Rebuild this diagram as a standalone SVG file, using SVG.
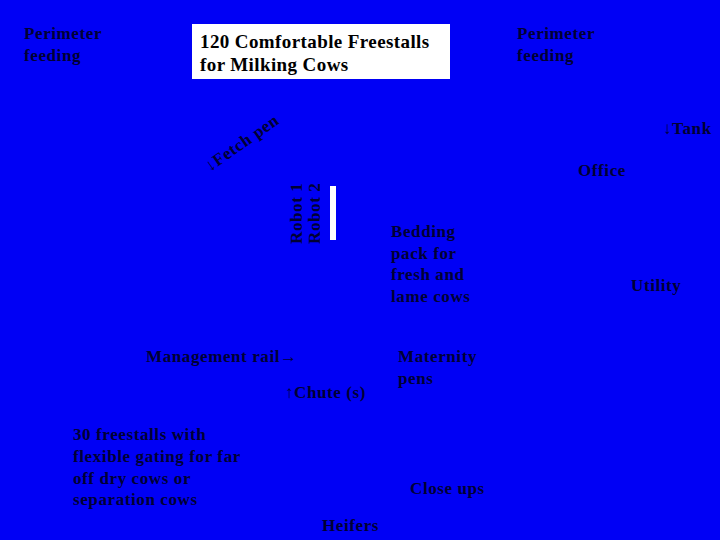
<svg xmlns="http://www.w3.org/2000/svg" width="720" height="540" viewBox="0 0 720 540">
<style>
text{font-family:"Liberation Serif","Times New Roman",serif;font-weight:bold;fill:#000033;font-size:17px;letter-spacing:0.6px}
.title{font-size:19px;fill:#000000;letter-spacing:0.4px}
</style>
<rect x="0" y="0" width="720" height="540" fill="#0000f5"/>
<g id="perimeter-left"><text x="24" y="39">Perimeter</text><text x="24" y="61">feeding</text></g>
<g id="freestalls-120"><rect x="192" y="24" width="258" height="55" fill="#ffffff"/><text class="title" x="200" y="48">120 Comfortable Freestalls</text><text class="title" x="200" y="71">for Milking Cows</text></g>
<g id="perimeter-right"><text x="517" y="39">Perimeter</text><text x="517" y="61">feeding</text></g>
<g id="fetch-pen"><text transform="translate(210,172) rotate(-35)">↓Fetch pen</text></g>
<g id="tank"><text x="663" y="134">↓Tank</text></g>
<g id="office"><text x="578" y="176">Office</text></g>
<g id="robots"><text transform="translate(302,244) rotate(-90)">Robot 1</text><text transform="translate(320,244) rotate(-90)">Robot 2</text><rect x="330" y="186" width="6" height="54" fill="#ffffff"/></g>
<g id="bedding"><text x="391" y="237">Bedding</text><text x="391" y="259">pack for</text><text x="391" y="280">fresh and</text><text x="391" y="302">lame cows</text></g>
<g id="utility"><text x="631" y="291">Utility</text></g>
<g id="management-rail"><text x="146" y="362">Management rail→</text></g>
<g id="maternity"><text x="398" y="362">Maternity</text><text x="398" y="384">pens</text></g>
<g id="chute"><text x="285" y="398">↑Chute (s)</text></g>
<g id="freestalls-30"><text x="73" y="440">30 freestalls with</text><text x="73" y="462">flexible gating for  far</text><text x="73" y="484">off dry cows or</text><text x="73" y="505">separation cows</text></g>
<g id="close-ups"><text x="410" y="494">Close ups</text></g>
<g id="heifers"><text x="322" y="531">Heifers</text></g>
<g id="connectors"></g>
</svg>
